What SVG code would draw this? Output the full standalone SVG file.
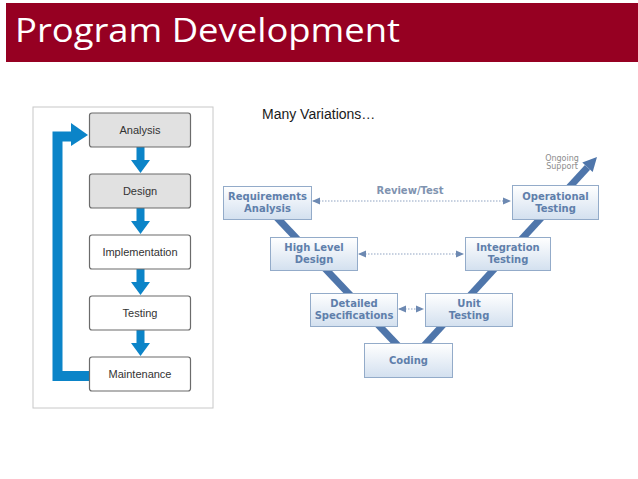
<svg xmlns="http://www.w3.org/2000/svg" width="638" height="479" viewBox="0 0 638 479">
<defs>
<linearGradient id="vg" x1="0" y1="0" x2="0" y2="1">
<stop offset="0" stop-color="#ffffff"/>
<stop offset="1" stop-color="#d3e0ef"/>
</linearGradient>
<marker id="dh" viewBox="0 0 8 8" refX="7" refY="4" markerWidth="8" markerHeight="8" markerUnits="userSpaceOnUse" orient="auto-start-reverse">
<path d="M0,0.5 L8,4 L0,7.5 Z" fill="#6d89b2"/>
</marker>
</defs>
<style>
.lb{fill:#ffffff;stroke:#6b6b6b;stroke-width:1.2}
.lg{fill:#e1e1e1;stroke:#6b6b6b;stroke-width:1.2}
.lt{font-family:"Liberation Sans",Arial,sans-serif;font-size:11px;fill:#333333;text-anchor:middle}
.vb{fill:url(#vg);stroke:#93abc9;stroke-width:1}
.vt{font-family:"DejaVu Sans",Verdana,sans-serif;font-weight:bold;font-size:10px;fill:#5f7fab;text-anchor:middle}
.ba{fill:#0b84c8}
.vl{stroke:#4f76ab;stroke-width:7;fill:none}
.dl{stroke:#8fa3c2;stroke-width:1.2;stroke-dasharray:1.5 1.5;fill:none}
</style>
<rect width="638" height="479" fill="#ffffff"/>
<g id="title">
<rect x="6" y="3" width="632" height="59" fill="#960022"/>
<text x="15" y="42" font-family="'Open Sans','Liberation Sans',sans-serif" font-size="33" fill="#ffffff" textLength="385" lengthAdjust="spacingAndGlyphs">Program Development</text>
</g>
<g id="panel">
<rect x="33" y="107" width="180" height="301" fill="#ffffff" stroke="#c8c8c8" stroke-width="1"/>
</g>
<text x="262" y="119" font-family="'Liberation Sans',Arial,sans-serif" font-size="14" fill="#1a1a1a">Many Variations…</text>
<g id="connectors">
<g id="left-arrows">
<rect x="136.5" y="147" width="8" height="14" class="ba"/>
<polygon points="131,160 150,160 140.5,173" class="ba"/>
<rect x="136.5" y="208" width="8" height="14" class="ba"/>
<polygon points="131,221 150,221 140.5,234" class="ba"/>
<rect x="136.5" y="269" width="8" height="14" class="ba"/>
<polygon points="131,282 150,282 140.5,295" class="ba"/>
<rect x="136.5" y="330" width="8" height="14" class="ba"/>
<polygon points="131,343 150,343 140.5,356" class="ba"/>
<polyline points="89,376 57.5,376 57.5,136.5 73,136.5" fill="none" stroke="#0b84c8" stroke-width="10" stroke-linejoin="miter"/>
<polygon points="71,123 88,135 71,146" class="ba"/>
</g>
<g id="v-lines">
<line x1="265" y1="205" x2="402" y2="350" class="vl"/>
<line x1="420" y1="350" x2="587.5" y2="167.3" class="vl"/>
<polygon points="597,157 592.7,172 582.3,162.6" fill="#4f76ab"/>
<text x="562" y="161" font-family="'DejaVu Sans',Verdana,sans-serif" font-size="8" fill="#8c8c8c" text-anchor="middle">Ongoing</text>
<text x="562" y="169" font-family="'DejaVu Sans',Verdana,sans-serif" font-size="8" fill="#8c8c8c" text-anchor="middle">Support</text>
</g>
<g id="dotted">
<line x1="313" y1="201" x2="510" y2="201" class="dl" marker-start="url(#dh)" marker-end="url(#dh)"/>
<text x="410" y="194" font-family="'DejaVu Sans',Verdana,sans-serif" font-weight="bold" font-size="10" fill="#7f93b0" text-anchor="middle">Review/Test</text>
<line x1="359" y1="254" x2="463" y2="254" class="dl" marker-start="url(#dh)" marker-end="url(#dh)"/>
<line x1="399" y1="309" x2="423" y2="309" class="dl" marker-start="url(#dh)" marker-end="url(#dh)"/>
</g>
</g>
<g id="analysis"><rect x="89.5" y="113" width="101" height="34" rx="2.5" class="lg"/><text x="140" y="134" class="lt">Analysis</text></g>
<g id="design"><rect x="89.5" y="174" width="101" height="34" rx="2.5" class="lg"/><text x="140" y="195" class="lt">Design</text></g>
<g id="implementation"><rect x="89.5" y="235" width="101" height="34" rx="2.5" class="lb"/><text x="140" y="256" class="lt">Implementation</text></g>
<g id="testing"><rect x="89.5" y="296" width="101" height="34" rx="2.5" class="lb"/><text x="140" y="317" class="lt">Testing</text></g>
<g id="maintenance"><rect x="89.5" y="357" width="101" height="34" rx="2.5" class="lb"/><text x="140" y="378" class="lt">Maintenance</text></g>
<g id="requirements"><rect x="223.5" y="186.5" width="88" height="33" class="vb"/><text x="267.5" y="200" class="vt">Requirements</text><text x="267.5" y="212" class="vt">Analysis</text></g>
<g id="highlevel"><rect x="270.5" y="237.5" width="87" height="33" class="vb"/><text x="314" y="251" class="vt">High Level</text><text x="314" y="263" class="vt">Design</text></g>
<g id="detailed"><rect x="310.5" y="293.5" width="87" height="33" class="vb"/><text x="354" y="307" class="vt">Detailed</text><text x="354" y="319" class="vt">Specifications</text></g>
<g id="coding"><rect x="364.5" y="343.5" width="88" height="34" class="vb"/><text x="408.5" y="364" class="vt">Coding</text></g>
<g id="unit"><rect x="425.5" y="293.5" width="87" height="33" class="vb"/><text x="469" y="307" class="vt">Unit</text><text x="469" y="319" class="vt">Testing</text></g>
<g id="integration"><rect x="465.5" y="237.5" width="85" height="33" class="vb"/><text x="508" y="251" class="vt">Integration</text><text x="508" y="263" class="vt">Testing</text></g>
<g id="operational"><rect x="512.5" y="185.5" width="86" height="34" class="vb"/><text x="555.5" y="200" class="vt">Operational</text><text x="555.5" y="212" class="vt">Testing</text></g>
</svg>
